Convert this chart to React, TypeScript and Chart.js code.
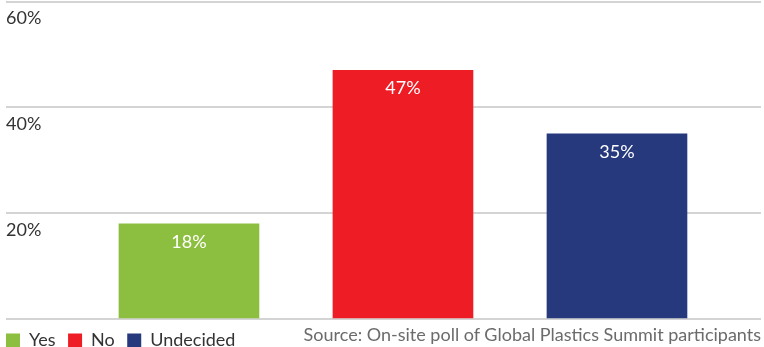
import React, { useEffect, useRef } from "react";
import { Chart, registerables } from "chart.js";

Chart.register(...registerables);

const categories = ["Yes", "No", "Undecided"];
const values = [18, 47, 35];
const colors = ["#8cbf3f", "#ee1d25", "#26397c"];
const yTicks = [0, 20, 40, 60];
const sourceText = "Source: On-site poll of Global Plastics Summit participants";

const FONT = "Lato, 'Open Sans', sans-serif";

const barLabels = {
  id: "barLabels",
  afterDatasetsDraw(chart: any) {
    const ctx = chart.ctx;
    const meta = chart.getDatasetMeta(0);
    ctx.save();
    ctx.fillStyle = "#ffffff";
    ctx.font = `18px ${FONT}`;
    ctx.textAlign = "center";
    ctx.textBaseline = "middle";
    meta.data.forEach((bar: any, i: number) => {
      ctx.fillText(values[i] + "%", bar.x, bar.y + 18);
    });
    ctx.restore();
  },
};

export default function App() {
  const ref = useRef<HTMLCanvasElement>(null);
  useEffect(() => {
    document.body.style.margin = "0";
    const chart = new Chart(ref.current as HTMLCanvasElement, {
      type: "bar",
      data: {
        datasets: [
          {
            data: categories.map((c, i) => ({ x: i, y: values[i] })) as any,
            backgroundColor: colors,
            barThickness: 140,
          },
        ],
      },
      options: {
        animation: false,
        responsive: true,
        maintainAspectRatio: false,
        layout: { padding: { left: -6.5, right: 3, top: 1.5, bottom: -12.5 } },
        plugins: {
          tooltip: { enabled: false },
          legend: {
            position: "bottom",
            align: "start",
            labels: {
              boxWidth: 14,
              boxHeight: 14,
              padding: 12.5,
              color: "#333",
              font: { family: FONT, size: 18 },
              generateLabels: () =>
                categories.map((c, i) => ({
                  text: c,
                  fillStyle: colors[i],
                  strokeStyle: colors[i],
                  lineWidth: 0,
                  hidden: false,
                  datasetIndex: 0,
                  fontColor: "#333",
                })),
            },
          },
        },
        scales: {
          x: {
            type: "linear",
            min: -0.855,
            max: 2.673,
            offset: false,
            display: false,
          },
          y: {
            min: yTicks[0],
            max: yTicks[yTicks.length - 1],
            afterFit: (scale: any) => {
              scale.width = 12.5;
              scale.paddingTop = 0;
              scale.paddingBottom = 0;
            },
            border: { display: false },
            grid: { color: "#d4d4d4", lineWidth: 2, drawTicks: false },
            ticks: {
              stepSize: 20,
              mirror: true,
              padding: 0,
              labelOffset: 17,
              color: "#333",
              font: { family: FONT, size: 18 },
              callback: (v: any) => (v === 0 ? "" : v + "%"),
            },
          },
        },
      },
      plugins: [barLabels],
    });
    return () => chart.destroy();
  }, []);
  return (
    <div style={{ position: "relative", width: 764, height: 347 }}>
      <canvas ref={ref} />
      <div
        style={{
          position: "absolute",
          right: 3,
          top: 325,
          fontFamily: FONT,
          fontSize: 18,
          lineHeight: "18px",
          color: "#6b6b6b",
          whiteSpace: "nowrap",
        }}
      >
        {sourceText}
      </div>
    </div>
  );
}
